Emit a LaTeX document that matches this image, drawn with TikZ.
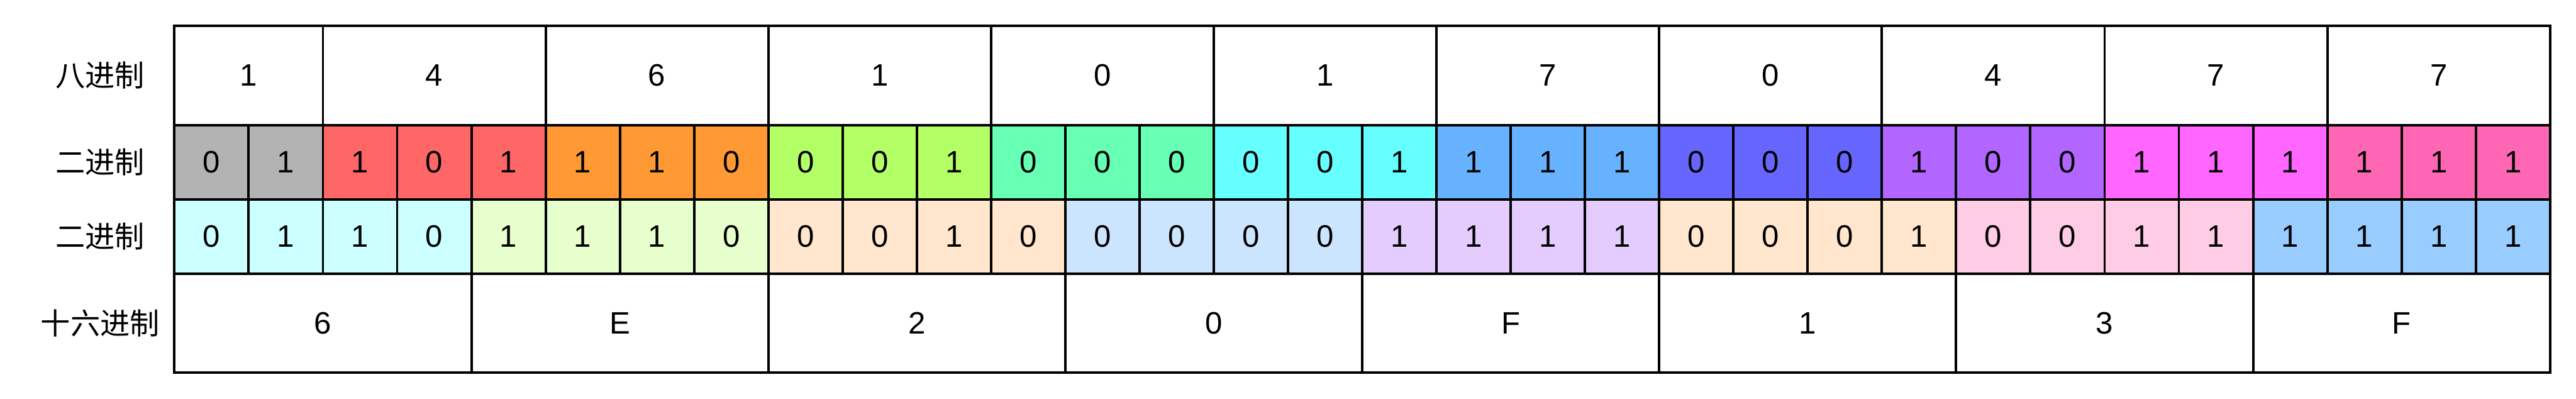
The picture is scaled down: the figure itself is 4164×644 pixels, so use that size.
\documentclass[tikz,border=0pt]{standalone}
\usepackage{fontspec}
\setmainfont{Liberation Sans}
\newfontfamily\cjk{Noto Sans CJK SC}
\usepackage{tikz}
\usetikzlibrary{positioning}
% binary row colours
\definecolor{bgray}{HTML}{B3B3B3}
\definecolor{bred}{HTML}{FF6666}
\definecolor{borange}{HTML}{FF9933}
\definecolor{blime}{HTML}{B3FF66}
\definecolor{bmint}{HTML}{66FFB3}
\definecolor{bcyan}{HTML}{66FFFF}
\definecolor{bsky}{HTML}{66B2FF}
\definecolor{bblue}{HTML}{6666FF}
\definecolor{bpurple}{HTML}{B266FF}
\definecolor{bmagenta}{HTML}{FF66FF}
\definecolor{bpink}{HTML}{FF66B3}
% hex grouping colours
\definecolor{hcyan}{HTML}{CCFFFF}
\definecolor{hlime}{HTML}{E6FFCC}
\definecolor{hpeach}{HTML}{FFE6CC}
\definecolor{hblue}{HTML}{CCE5FF}
\definecolor{hlilac}{HTML}{E5CCFF}
\definecolor{hpink}{HTML}{FFCCE6}
\definecolor{hsky}{HTML}{99CCFF}

\begin{document}
\begin{tikzpicture}[x=0.25pt, y=-0.25pt,
    cell/.style={draw, line width=1pt, inner sep=0pt, outer sep=0pt, anchor=north west,
        font=\fontsize{12.5}{15}\selectfont},
    bitbox/.style={cell, minimum width=30pt, minimum height=30pt},
    rowlabel/.style={font=\cjk\fontsize{12}{14}\selectfont}]
    \useasboundingbox (0,0) rectangle (4164,644);

    % Row labels
    \node[rowlabel] (lbl-oct) at (162,122) {八进制};
    \node[rowlabel] (lbl-bin) at (162,262) {二进制};
    \node[rowlabel] (lbl-grp) at (162,382) {二进制};
    \node[rowlabel] (lbl-hex) at (162,522) {十六进制};

    % Octal digits
    \foreach \x/\w/\d [count=\i] in {282/240/1, 522/360/4, 882/360/6, 1242/360/1,
        1602/360/0, 1962/360/1, 2322/360/7, 2682/360/0, 3042/360/4, 3402/360/7, 3762/360/7}
        \node[cell, minimum width=\w*0.25pt, minimum height=40pt] (oct-\i) at (\x,42) {\d};

    % Binary, grouped by three
    \foreach \b/\c [count=\i from 0] in {0/bgray, 1/bgray,
        1/bred, 0/bred, 1/bred, 1/borange, 1/borange, 0/borange,
        0/blime, 0/blime, 1/blime, 0/bmint, 0/bmint, 0/bmint,
        0/bcyan, 0/bcyan, 1/bcyan, 1/bsky, 1/bsky, 1/bsky,
        0/bblue, 0/bblue, 0/bblue, 1/bpurple, 0/bpurple, 0/bpurple,
        1/bmagenta, 1/bmagenta, 1/bmagenta, 1/bpink, 1/bpink, 1/bpink}
        \node[bitbox, fill=\c] (bin-\i) at ({282+\i*120},202) {\b};

    % Binary, grouped by four
    \foreach \b/\c [count=\i from 0] in {0/hcyan, 1/hcyan, 1/hcyan, 0/hcyan,
        1/hlime, 1/hlime, 1/hlime, 0/hlime, 0/hpeach, 0/hpeach, 1/hpeach, 0/hpeach,
        0/hblue, 0/hblue, 0/hblue, 0/hblue, 1/hlilac, 1/hlilac, 1/hlilac, 1/hlilac,
        0/hpeach, 0/hpeach, 0/hpeach, 1/hpeach, 0/hpink, 0/hpink, 1/hpink, 1/hpink,
        1/hsky, 1/hsky, 1/hsky, 1/hsky}
        \node[bitbox, fill=\c] (grp-\i) at ({282+\i*120},322) {\b};

    % Hex digits
    \foreach \d [count=\i from 0] in {6, E, 2, 0, F, 1, 3, F}
        \node[cell, minimum width=120pt, minimum height=40pt] (hex-\i) at ({282+\i*480},442) {\d};
\end{tikzpicture}
\end{document}
